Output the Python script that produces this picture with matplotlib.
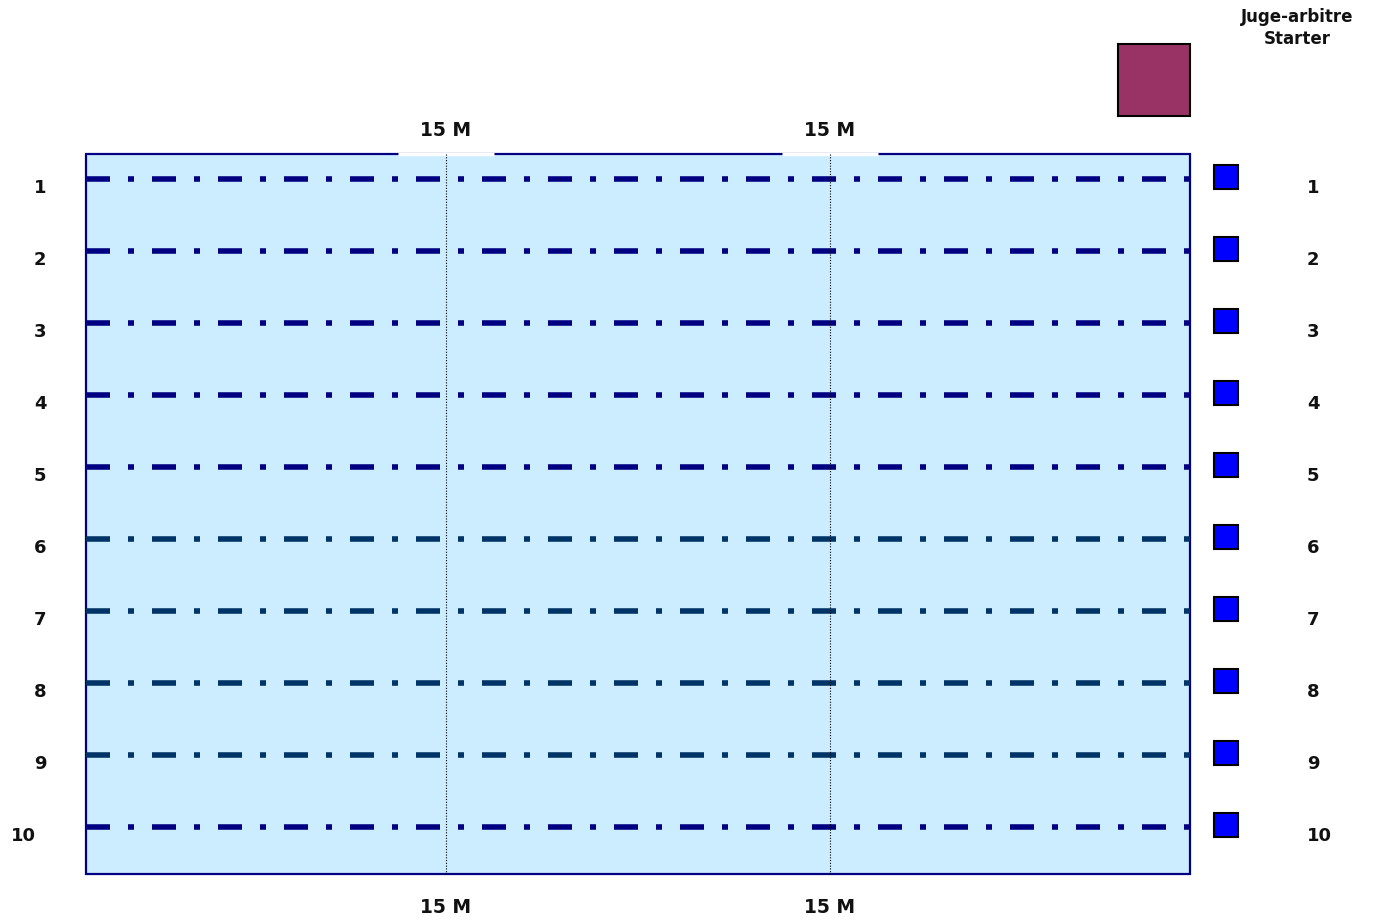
import matplotlib
matplotlib.use("Agg")
import matplotlib.pyplot as plt
from matplotlib.patches import Rectangle

# data
lanes = [1, 2, 3, 4, 5, 6, 7, 8, 9, 10]
lane_colors = ["#000080"] * 5 + ["#003366"] * 4 + ["#000080"]
marks = ["15 M", "15 M"]
judge_lines = ["Juge-arbitre", "Starter"]

# layout (pixel space)
pool_x0, pool_x1 = 86, 1190
pool_y0, pool_y1 = 154, 874
lane_y0, lane_step = 179, 72
mark_x = [446, 830]

fig = plt.figure(figsize=(13.75, 9.22), dpi=100, facecolor="white")
ax = fig.add_axes([0, 0, 1, 1])
ax.set_xlim(0, 1375)
ax.set_ylim(922, 0)
ax.axis("off")

ax.add_patch(Rectangle((pool_x0, pool_y0), pool_x1 - pool_x0, pool_y1 - pool_y0,
                       facecolor="#CCECFF", edgecolor="#000080", lw=1.6, zorder=1))

# white gaps in the top border over the 15 M marks
for mx in mark_x:
    ax.plot([mx - 48, mx + 48], [pool_y0, pool_y0], color="white", lw=2.5,
            solid_capstyle="butt", zorder=2)

# lane ropes
lw = 4.0
px = lw * 100 / 72
for i, lane in enumerate(lanes):
    y = lane_y0 + i * lane_step
    ax.plot([pool_x0, pool_x1], [y, y], color=lane_colors[i], lw=lw,
            linestyle=(0, (24 / px, 18 / px, 6 / px, 18 / px)),
            dash_capstyle="butt", zorder=3)
    # lane numbers
    lx = 40 if lane < 10 else 23
    ax.text(lx, y + 9, str(lane), ha="center", va="center", fontsize=13,
            fontweight="bold", color="#111111")
    ax.text(1307, y + 9, str(lane), ha="left", va="center", fontsize=13,
            fontweight="bold", color="#111111")
    # timekeeper boxes
    ax.add_patch(Rectangle((1214, y - 14), 24, 24, facecolor="#0000FF",
                           edgecolor="black", lw=1.5, zorder=3))

# 15 m marks
for mx, m in zip(mark_x, marks):
    ax.plot([mx, mx], [pool_y0, pool_y1], color="black", lw=0.8,
            linestyle=(0, (1, 1.5)), zorder=4)
    ax.text(mx, 131, m, ha="center", va="center", fontsize=13.5,
            fontweight="bold", color="#111111")
    ax.text(mx, 907, m, ha="center", va="center", fontsize=13.5,
            fontweight="bold", color="#111111")

# referee / starter
ax.add_patch(Rectangle((1118, 44), 72, 72, facecolor="#993366",
                       edgecolor="black", lw=1.5, zorder=3))
ax.text(1297, 17, judge_lines[0], ha="center", va="center", fontsize=12,
        fontweight="bold", color="#111111")
ax.text(1297, 39, judge_lines[1], ha="center", va="center", fontsize=12,
        fontweight="bold", color="#111111")

fig.savefig("out.png", dpi=100, facecolor="white")
